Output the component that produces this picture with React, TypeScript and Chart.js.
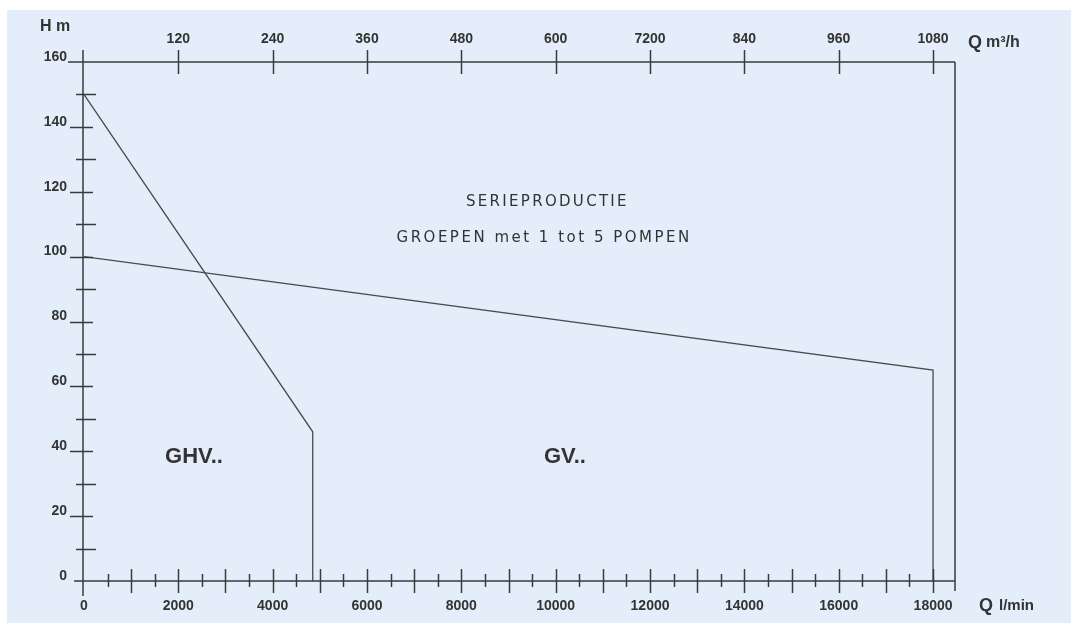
import React, { useEffect, useRef } from 'react';
import { Chart, registerables } from 'chart.js';

Chart.register(...registerables);

// ---- data ----
const ghvFlow = [0, 4850, 4850];
const ghvHead = [150, 46, 0];
const gvFlow = [0, 18000, 18000];
const gvHead = [100, 65, 0];

const flowTicks = [
  0, 500, 1000, 1500, 2000, 2500, 3000, 3500, 4000, 4500, 5000, 5500, 6000, 6500, 7000,
  7500, 8000, 8500, 9000, 9500, 10000, 10500, 11000, 11500, 12000, 12500, 13000, 13500,
  14000, 14500, 15000, 15500, 16000, 16500, 17000, 17500, 18000,
];
const flowLabels = [0, 2000, 4000, 6000, 8000, 10000, 12000, 14000, 16000, 18000];
const headTicks = [0, 10, 20, 30, 40, 50, 60, 70, 80, 90, 100, 110, 120, 130, 140, 150, 160];
const headLabels = [0, 20, 40, 60, 80, 100, 120, 140, 160];
const m3hTickValues = [120, 240, 360, 480, 600, 720, 840, 960, 1080];
const m3hTickLabels = ['120', '240', '360', '480', '600', '7200', '840', '960', '1080'];

const titleLine1 = 'SERIEPRODUCTIE';
const titleLine2 = 'GROEPEN met 1 tot 5 POMPEN';
const ghvName = 'GHV..';
const gvName = 'GV..';

const X_MIN = -20;
const X_MAX = 18465;
const LPM_TO_M3H = 0.06;

const INK = '#333333';
const FONT = "'Liberation Sans', Arial, sans-serif";

const decor = {
  id: 'decor',
  beforeDraw(chart: any) {
    const { ctx, width, height } = chart;
    ctx.save();
    ctx.fillStyle = '#ffffff';
    ctx.fillRect(0, 0, width, height);
    ctx.fillStyle = '#e3eefa';
    ctx.fillRect(7, 10, width - 7, height - 10);
    ctx.restore();
  },
  afterDraw(chart: any) {
    const { ctx, chartArea: a, scales } = chart;
    const x = scales.x;
    const y = scales.y;
    const xt = scales.xTop;
    const line = (x1: number, y1: number, x2: number, y2: number) => {
      ctx.beginPath();
      ctx.moveTo(x1, y1);
      ctx.lineTo(x2, y2);
      ctx.stroke();
    };
    ctx.save();
    ctx.strokeStyle = '#3a3a3a';
    ctx.lineWidth = 1.5;
    // frame
    line(a.left, a.top - 12, a.left, a.bottom + 15);
    line(a.left - 15, a.top, a.right, a.top);
    line(a.right, a.top, a.right, a.bottom + 10);
    line(a.left - 9, a.bottom, a.right, a.bottom);
    // bottom ticks
    x.ticks.forEach((t: any) => {
      if (t.value <= 0) return;
      const px = Math.round(x.getPixelForValue(t.value)) + 0.5;
      const long = t.value % 1000 === 0;
      line(px, a.bottom - (long ? 12 : 7), px, a.bottom + (long ? 12 : 6));
    });
    // top ticks
    xt.ticks.forEach((t: any) => {
      const px = Math.round(xt.getPixelForValue(t.value)) + 0.5;
      line(px, a.top - 12, px, a.top + 12);
    });
    // left ticks
    y.ticks.forEach((t: any) => {
      if (t.value <= 0 || t.value >= 160) return;
      const py = Math.round(y.getPixelForValue(t.value)) + 0.5;
      if (t.value % 20 === 0) line(a.left - 13, py, a.left + 10, py);
      else line(a.left - 7, py, a.left + 13, py);
    });

    // texts
    ctx.fillStyle = INK;
    ctx.textBaseline = 'middle';
    ctx.textAlign = 'center';
    ctx.font = "15px 'DejaVu Sans', sans-serif";
    (ctx as any).letterSpacing = '2.3px';
    ctx.fillText(titleLine1, x.getPixelForValue(9800) + 1.2, y.getPixelForValue(116.8));
    (ctx as any).letterSpacing = '2.5px';
    ctx.fillText(titleLine2, x.getPixelForValue(9730) + 1.2, y.getPixelForValue(105.7));
    (ctx as any).letterSpacing = '0px';

    ctx.textAlign = 'left';
    ctx.font = `bold 22px ${FONT}`;
    ctx.fillText(ghvName, x.getPixelForValue(1720), y.getPixelForValue(38.2));
    ctx.fillText(gvName, x.getPixelForValue(9750), y.getPixelForValue(38.2));

    // axis titles
    ctx.font = `bold 16px ${FONT}`;
    ctx.fillText('H m', 40, 27);
    ctx.font = `bold 18px ${FONT}`;
    ctx.fillText('Q', 968, 43);
    ctx.font = `bold 16px ${FONT}`;
    ctx.fillText('m³/h', 986, 43);
    ctx.font = `bold 18px ${FONT}`;
    ctx.fillText('Q', 979, 606);
    ctx.font = `bold 15px ${FONT}`;
    ctx.fillText('l/min', 999, 606);
    ctx.restore();
  },
};

export default function App() {
  const ref = useRef<HTMLCanvasElement | null>(null);
  useEffect(() => {
    document.body.style.margin = '0';
    const canvas = ref.current;
    if (!canvas) return;
    const tickFont = { family: FONT, size: 14, weight: 'bold' as const };
    const chart = new Chart(canvas, {
      type: 'line',
      data: {
        datasets: [
          {
            label: 'GHV',
            data: ghvFlow.map((f, i) => ({ x: f, y: ghvHead[i] })),
            borderColor: '#4a4a4a',
            borderWidth: 1.3,
            pointRadius: 0,
            fill: false,
            tension: 0,
          },
          {
            label: 'GV',
            data: gvFlow.map((f, i) => ({ x: f, y: gvHead[i] })),
            borderColor: '#4a4a4a',
            borderWidth: 1.3,
            pointRadius: 0,
            fill: false,
            tension: 0,
          },
        ],
      },
      options: {
        animation: false,
        responsive: false,
        devicePixelRatio: 1,
        layout: { padding: { top: 22, left: 23, right: 116, bottom: 0 } },
        plugins: { legend: { display: false }, tooltip: { enabled: false }, title: { display: false } },
        events: [],
        scales: {
          x: {
            type: 'linear',
            position: 'bottom',
            min: X_MIN,
            max: X_MAX,
            grid: { display: false, drawTicks: false },
            border: { display: false },
            afterBuildTicks: (s: any) => {
              s.ticks = flowTicks.map((v) => ({ value: v }));
            },
            afterFit: (s: any) => {
              s.height = 42;
            },
            ticks: {
              autoSkip: false,
              maxRotation: 0,
              padding: 17,
              color: INK,
              font: tickFont,
              callback: (v: any) => (flowLabels.includes(Number(v)) ? String(v) : ''),
            },
          },
          xTop: {
            type: 'linear',
            position: 'top',
            min: X_MIN * LPM_TO_M3H,
            max: X_MAX * LPM_TO_M3H,
            grid: { display: false, drawTicks: false },
            border: { display: false },
            afterBuildTicks: (s: any) => {
              s.ticks = m3hTickValues.map((v) => ({ value: v }));
            },
            afterFit: (s: any) => {
              s.height = 40;
            },
            ticks: {
              autoSkip: false,
              maxRotation: 0,
              padding: 14,
              color: INK,
              font: tickFont,
              callback: (_v: any, i: number) => m3hTickLabels[i],
            },
          },
          y: {
            type: 'linear',
            position: 'left',
            min: 0,
            max: 160,
            grid: { display: false, drawTicks: false },
            border: { display: false },
            afterBuildTicks: (s: any) => {
              s.ticks = headTicks.map((v) => ({ value: v }));
            },
            afterFit: (s: any) => {
              s.width = 60;
            },
            ticks: {
              autoSkip: false,
              padding: 16,
              labelOffset: -5,
              color: INK,
              font: tickFont,
              callback: (v: any) => (headLabels.includes(Number(v)) ? String(v) : ''),
            },
          },
        },
      },
      plugins: [decor],
    });
    return () => chart.destroy();
  }, []);
  return (
    <div style={{ position: 'absolute', left: 0, top: 0, width: 1071, height: 623 }}>
      <canvas ref={ref} width={1071} height={623} style={{ display: 'block', width: 1071, height: 623 }} />
    </div>
  );
}
